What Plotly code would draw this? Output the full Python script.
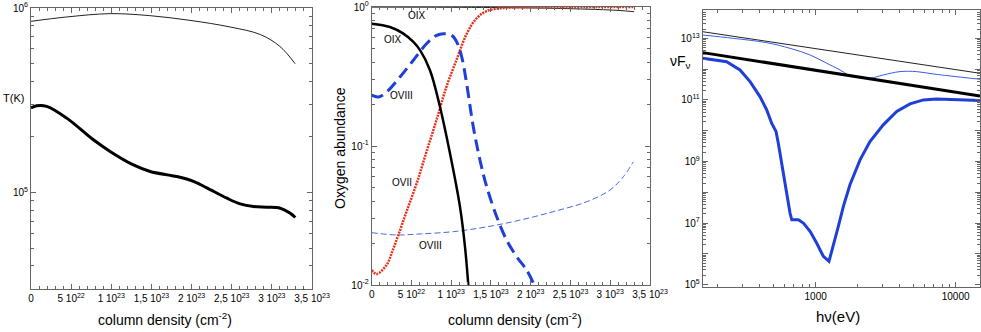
import plotly.graph_objects as go

# ---------------- data ----------------
# Left panel: temperature vs column density
t_thin_x = [0, 0.445e23, 0.985e23, 1.48e23, 1.98e23, 2.48e23, 2.86e23, 3.10e23, 3.29e23]
t_thin_y = [8.47e5, 8.94e5, 9.32e5, 9.09e5, 8.57e5, 7.89e5, 7.17e5, 6.19e5, 4.99e5]
t_thick_x = [0, 0.07e23, 0.195e23, 0.445e23, 0.777e23, 0.985e23, 1.276e23, 1.484e23, 1.816e23,
             2.024e23, 2.19e23, 2.44e23, 2.606e23, 2.772e23, 2.938e23, 3.105e23, 3.229e23, 3.292e23]
t_thick_y = [2.87e5, 2.95e5, 2.93e5, 2.53e5, 1.93e5, 1.67e5, 1.41e5, 1.30e5, 1.22e5,
             1.15e5, 1.06e5, 9.31e4, 8.68e4, 8.40e4, 8.33e4, 8.22e4, 7.72e4, 7.32e4]

# Middle panel: oxygen abundances
oix_thick_x = [0, 0.23e23, 0.398e23, 0.524e23, 0.608e23, 0.733e23, 0.859e23, 0.985e23,
               1.11e23, 1.173e23, 1.215e23]
oix_thick_y = [0.759, 0.718, 0.643, 0.561, 0.489, 0.351, 0.191, 0.0883, 0.0366, 0.0189, 0.0100]
oix_thin_x = [0, 1.0e23, 2.0e23, 2.7e23, 3.1e23, 3.3e23]
oix_thin_y = [0.998, 0.995, 0.985, 0.965, 0.945, 0.925]
oviii_thick_x = [0, 0.084e23, 0.189e23, 0.356e23, 0.524e23, 0.692e23, 0.817e23, 0.901e23, 1.006e23,
                 1.069e23, 1.132e23, 1.194e23, 1.278e23, 1.362e23, 1.446e23, 1.572e23, 1.697e23,
                 1.823e23, 1.949e23, 2.033e23]
oviii_thick_y = [0.232, 0.225, 0.245, 0.314, 0.414, 0.546, 0.625, 0.643, 0.625,
                 0.561, 0.438, 0.281, 0.137, 0.079, 0.051, 0.031, 0.021,
                 0.016, 0.0128, 0.0103]
oviii_thin_x = [0, 0.314e23, 0.608e23, 1.027e23, 1.446e23, 1.865e23, 2.284e23, 2.703e23, 2.996e23,
                3.164e23, 3.29e23]
oviii_thin_y = [0.0238, 0.0229, 0.0233, 0.0242, 0.0262, 0.0293, 0.0337, 0.0397, 0.0482,
                0.060, 0.0769]
ovii_x = [0, 0.063e23, 0.189e23, 0.26e23, 0.335e23, 0.44e23, 0.566e23, 0.692e23, 0.817e23,
          0.943e23, 1.069e23, 1.194e23, 1.32e23, 1.446e23, 1.655e23, 1.865e23, 2.5e23, 3.29e23]
ovii_y = [0.0128, 0.0120, 0.0140, 0.0175, 0.0229, 0.034, 0.054, 0.092, 0.155,
          0.27, 0.42, 0.64, 0.83, 0.935, 0.984, 0.995, 0.998, 0.999]

# Right panel: spectra
e_thin_black = [156, 1000, 14928]
f_thin_black = [1.64e13, 4.62e12, 7.33e11]
e_thick_black = [156, 1000, 14928]
f_thick_black = [3.43e12, 9.16e11, 1.35e11]
e_thin_blue = [156, 258, 447, 656, 912, 1200, 1493, 1710, 1963, 2443, 3041, 4000, 5260, 6918, 9120, 14928]
f_thin_blue = [1.28e13, 1.0e13, 7.23e12, 4.74e12, 2.88e12, 1.55e12, 9.4e11, 6.47e11, 5.43e11,
               5.05e11, 6.47e11, 8.3e11, 8.3e11, 6.97e11, 6.0e11, 4.68e11]
e_thick_blue = [156, 231, 288, 340, 400, 447, 485, 521, 541, 587, 621, 656, 675, 752, 817, 912,
                1016, 1135, 1245, 1337, 1452, 1578, 1758, 2075, 2443, 3041, 3793, 4721, 5875,
                7311, 9120, 11995, 14928]
f_thick_blue = [2.24e12, 1.75e12, 9.4e11, 3.94e11, 1.28e11, 4.74e10, 1.75e10, 9.4e9, 3.94e9,
                4.19e8, 9.4e7, 2.11e7, 1.28e7, 1.28e7, 1.0e7, 5.37e6, 2.24e6, 8.3e5, 5.71e5,
                1.75e6, 7.8e6, 3.48e7, 1.75e8, 1.13e9, 4.46e9, 1.55e10, 4.19e10, 7.41e10,
                1.0e11, 1.08e11, 1.05e11, 1.0e11, 9.5e10]

col_tickvals = [0, 0.5e23, 1e23, 1.5e23, 2e23, 2.5e23, 3e23, 3.5e23]
col_ticktext = ["0", "5 10<sup>22</sup>", "1 10<sup>23</sup>", "1,5 10<sup>23</sup>",
                "2 10<sup>23</sup>", "2,5 10<sup>23</sup>", "3 10<sup>23</sup>", "3,5 10<sup>23</sup>"]

# ---------------- figure ----------------
W, H = 981, 332
FONT = "Liberation Sans, Arial, sans-serif"
BLUE = "#1f3fd8"
RED = "#e5301a"

fig = go.Figure()

def px_x(p):
    return p / W

def px_y(p):
    return 1 - p / H

# left
fig.add_trace(go.Scatter(x=t_thin_x, y=t_thin_y, mode="lines", line=dict(color="#222", width=1, shape="spline"),
                         xaxis="x", yaxis="y", showlegend=False))
fig.add_trace(go.Scatter(x=t_thick_x, y=t_thick_y, mode="lines", line=dict(color="black", width=3, shape="spline"),
                         xaxis="x", yaxis="y", showlegend=False))
# middle
fig.add_trace(go.Scatter(x=oviii_thin_x, y=oviii_thin_y, mode="lines",
                         line=dict(color="#4a68e6", width=1, dash="6px,3px", shape="spline"),
                         xaxis="x2", yaxis="y2", showlegend=False))
fig.add_trace(go.Scatter(x=oix_thin_x, y=oix_thin_y, mode="lines", line=dict(color="#222", width=1, shape="spline"),
                         xaxis="x2", yaxis="y2", showlegend=False))
fig.add_trace(go.Scatter(x=ovii_x, y=ovii_y, mode="lines",
                         line=dict(color=RED, width=2.5, dash="2px,1px", shape="spline"),
                         xaxis="x2", yaxis="y2", showlegend=False))
fig.add_trace(go.Scatter(x=oviii_thick_x, y=oviii_thick_y, mode="lines",
                         line=dict(color=BLUE, width=3, dash="12px,6px", shape="spline"),
                         xaxis="x2", yaxis="y2", showlegend=False))
fig.add_trace(go.Scatter(x=oix_thick_x, y=oix_thick_y, mode="lines", line=dict(color="black", width=2.5, shape="spline"),
                         xaxis="x2", yaxis="y2", showlegend=False))
# right
fig.add_trace(go.Scatter(x=e_thin_black, y=f_thin_black, mode="lines", line=dict(color="#222", width=1),
                         xaxis="x3", yaxis="y3", showlegend=False))
fig.add_trace(go.Scatter(x=e_thin_blue, y=f_thin_blue, mode="lines", line=dict(color="#3a5ce0", width=1, shape="spline"),
                         xaxis="x3", yaxis="y3", showlegend=False))
fig.add_trace(go.Scatter(x=e_thick_black, y=f_thick_black, mode="lines", line=dict(color="black", width=3),
                         xaxis="x3", yaxis="y3", showlegend=False))
fig.add_trace(go.Scatter(x=e_thick_blue, y=f_thick_blue, mode="lines", line=dict(color=BLUE, width=3),
                         xaxis="x3", yaxis="y3", showlegend=False))

axis_common = dict(showline=True, linecolor="#666", linewidth=1, mirror="allticks", ticks="inside",
                   ticklen=5, tickcolor="#666", showgrid=False, zeroline=False, automargin=False,
                   tickfont=dict(family=FONT, size=10, color="black"))

def log_minor(lo, hi):
    vals = []
    for d in range(lo, hi + 1):
        for m in range(2, 10):
            vals.append(m * 10.0 ** d)
    return vals

minor_style = dict(ticks="inside", ticklen=3, tickcolor="#666", showgrid=False)

fig.update_layout(
    xaxis=dict(domain=[px_x(31), px_x(312)], range=[0, 3.5e23], tickmode="array",
               tickvals=col_tickvals, ticktext=col_ticktext, anchor="y",
               minor=dict(dtick=1e22, **minor_style), **axis_common),
    yaxis=dict(domain=[px_y(289), px_y(8)], type="log", range=[4.477, 6.0], tickmode="array",
               tickvals=[1e5, 1e6], ticktext=["10<sup>5</sup>", "10<sup>6</sup>"], anchor="x",
               minor=dict(tickmode="array", tickvals=log_minor(4, 5), **minor_style), **axis_common),
    xaxis2=dict(domain=[px_x(371.7), px_x(650)], range=[0, 3.5e23], tickmode="array",
                tickvals=col_tickvals, ticktext=col_ticktext, anchor="y2",
                minor=dict(dtick=1e22, **minor_style), **axis_common),
    yaxis2=dict(domain=[px_y(285), px_y(7)], type="log", range=[-2, 0], tickmode="array",
                tickvals=[1e-2, 1e-1, 1], ticktext=["10<sup>-2</sup>", "10<sup>-1</sup>", "10<sup>0</sup>"],
                anchor="x2", minor=dict(tickmode="array", tickvals=log_minor(-2, -1), **minor_style),
                **axis_common),
    xaxis3=dict(domain=[px_x(702.7), px_x(980)], type="log", range=[2.193, 4.174], tickmode="array",
                tickvals=[1000, 10000], ticktext=["1000", "10000"], anchor="y3",
                minor=dict(tickmode="array", tickvals=log_minor(2, 4), **minor_style), **axis_common),
    yaxis3=dict(domain=[px_y(287), px_y(10)], type="log", range=[4.924, 13.92], tickmode="array",
                tickvals=[10.0 ** k for k in range(5, 14)],
                ticktext=["10<sup>5</sup>", "", "10<sup>7</sup>", "", "10<sup>9</sup>", "",
                          "10<sup>11</sup>", "", "10<sup>13</sup>"],
                anchor="x3", minor=dict(tickmode="array", tickvals=log_minor(4, 13), **minor_style),
                **axis_common),
)

ann = []
def add_text(x, y, text, size=14, angle=0):
    ann.append(dict(x=px_x(x), y=px_y(y), xref="paper", yref="paper", text=text, showarrow=False,
                    font=dict(family=FONT, size=size, color="black"), textangle=angle,
                    xanchor="center", yanchor="middle"))

add_text(165, 319, "column density (cm<sup>-2</sup>)", 14)
add_text(515, 319, "column density (cm<sup>-2</sup>)", 14)
add_text(838, 316, "hν(eV)", 15)
add_text(13, 98, "T(K)", 11)
add_text(340, 148, "Oxygen abundance", 14, -90)
add_text(680, 62, "νF<sub>ν</sub>", 14)

def add_data_text(x, y, text):
    ann.append(dict(x=x, y=y, xref="x2", yref="y2", text=text, showarrow=False,
                    font=dict(family=FONT, size=10, color="black"), xanchor="center", yanchor="middle"))

add_data_text(0.57e23, -0.06, "OIX")
add_data_text(0.27e23, -0.232, "OIX")
add_data_text(0.37e23, -0.64, "OVIII")
add_data_text(0.38e23, -1.265, "OVII")
add_data_text(0.74e23, -1.713, "OVIII")

fig.update_layout(annotations=ann, width=W, height=H, margin=dict(l=0, r=0, t=0, b=0),
                  paper_bgcolor="white", plot_bgcolor="white", showlegend=False)

fig.write_html("out.html", config={"displayModeBar": False},
               post_script="document.body.style.margin='0';document.body.style.padding='0';")
